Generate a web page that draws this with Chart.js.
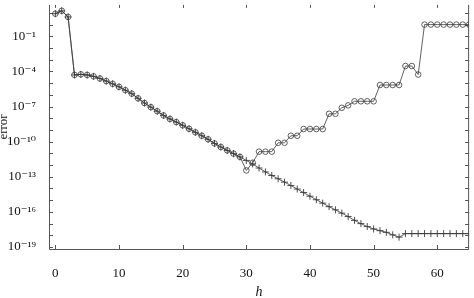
<!DOCTYPE html>
<html>
<head>
<meta charset="utf-8">
<script src="https://cdn.jsdelivr.net/npm/chart.js@4/dist/chart.umd.min.js"></script>
<style>
  html, body { margin: 0; padding: 0; background: #fff; }
  #wrap { width: 474px; height: 298px; }
</style>
</head>
<body>
<div id="wrap"><canvas id="myChart" width="474" height="298"></canvas></div>
<script>
// step index h
const h = [0, 1, 2, 3, 4, 5, 6, 7, 8, 9, 10, 11, 12, 13, 14, 15, 16, 17, 18, 19, 20,
  21, 22, 23, 24, 25, 26, 27, 28, 29, 30, 31, 32, 33, 34, 35, 36, 37, 38, 39, 40,
  41, 42, 43, 44, 45, 46, 47, 48, 49, 50, 51, 52, 53, 54, 55, 56, 57, 58, 59, 60,
  61, 62, 63, 64, 65];

// error, '+' series
const errPlus = [8.5, 15, 4.5, 5e-5, 5.6e-5, 5e-5, 3.8e-5, 2.5e-5, 1.5e-5, 8.7e-6, 4.8e-6,
  2.5e-6, 1.26e-6, 5e-7, 2e-7, 8.9e-8, 4e-8, 1.74e-8, 8.7e-9, 4.7e-9, 2.5e-9,
  1.26e-9, 6.3e-10, 3.2e-10, 1.6e-10, 7.1e-11, 3.5e-11, 1.8e-11, 9.5e-12, 5e-12, 2.5e-12,
  1.26e-12, 5.6e-13, 2.6e-13, 1.3e-13, 6.8e-14, 3.5e-14, 1.8e-14, 8.9e-15, 4.5e-15, 2.2e-15,
  1.1e-15, 5.6e-16, 2.8e-16, 1.5e-16, 7.9e-17, 4e-17, 1.9e-17, 1e-17, 5.6e-18, 3.5e-18,
  2.5e-18, 1.8e-18, 1.1e-18, 7e-19, 1.4e-18, 1.4e-18, 1.4e-18, 1.4e-18, 1.4e-18, 1.4e-18,
  1.4e-18, 1.4e-18, 1.4e-18, 1.4e-18, 1.4e-18];

// error, 'o' series
const errCircle = [8.5, 15, 4.5, 5e-5, 5.6e-5, 5e-5, 3.8e-5, 2.5e-5, 1.5e-5, 8.7e-6, 4.8e-6,
  2.5e-6, 1.26e-6, 5e-7, 2e-7, 8.9e-8, 4e-8, 1.74e-8, 8.7e-9, 4.7e-9, 2.5e-9,
  1.26e-9, 6.3e-10, 3.2e-10, 1.6e-10, 7.1e-11, 3.5e-11, 1.8e-11, 9.5e-12, 5e-12, 3.5e-13,
  1.6e-12, 1.4e-11, 1.4e-11, 1.4e-11, 8e-11, 8e-11, 3.2e-10, 3.2e-10, 1.2e-9, 1.2e-9,
  1.2e-9, 1.2e-9, 2.4e-8, 2.4e-8, 7.8e-8, 1.26e-7, 2.8e-7, 2.8e-7, 2.8e-7, 2.8e-7,
  6.9e-6, 6.9e-6, 6.9e-6, 6.9e-6, 2.9e-4, 2.9e-4, 5.4e-5, 1, 1, 1,
  1, 1, 1, 1, 1];

// axis ticks
const xTicks = [0, 10, 20, 30, 40, 50, 60];
const yTickExp = [-19, -18, -17, -16, -15, -14, -13, -12, -11, -10, -9, -8, -7, -6, -5,
  -4, -3, -2, -1, 0, 1];
const yLabelExp = [-19, -16, -13, -10, -7, -4, -1];

const SUP = { '-': '\u207B', '0': '\u2070', '1': '\u00B9', '2': '\u00B2', '3': '\u00B3',
  '4': '\u2074', '5': '\u2075', '6': '\u2076', '7': '\u2077', '8': '\u2078', '9': '\u2079' };
const supText = s => String(s).split('').map(c => SUP[c]).join('');

const FONT = "'Liberation Serif', 'DejaVu Serif', serif";
const INK = '#3a3a3a';

// gnuplot-like frame (top edge is cut off) with inward ticks on all four sides
const framePlugin = {
  id: 'framePlugin',
  beforeDatasetsDraw(chart) {
    const { ctx, chartArea: { left, right, top, bottom }, scales: { x, y } } = chart;
    ctx.save();
    ctx.strokeStyle = '#555';
    ctx.lineWidth = 1;
    ctx.beginPath();
    ctx.moveTo(left + 0.5, top);
    ctx.lineTo(left + 0.5, bottom + 0.5);
    ctx.lineTo(right - 0.5, bottom + 0.5);
    ctx.lineTo(right - 0.5, top);
    x.ticks.forEach(t => {
      const px = Math.round(x.getPixelForValue(t.value)) + 0.5;
      ctx.moveTo(px, bottom); ctx.lineTo(px, bottom - 4);
      ctx.moveTo(px, top); ctx.lineTo(px, top + 3);
    });
    y.ticks.forEach(t => {
      const py = Math.round(y.getPixelForValue(t.value)) + 0.5;
      ctx.moveTo(left, py); ctx.lineTo(left + 4, py);
      ctx.moveTo(right, py); ctx.lineTo(right - 4, py);
    });
    ctx.stroke();
    ctx.restore();
  }
};

const toPoints = arr => h.map((v, i) => ({ x: v, y: arr[i] }));

new Chart('myChart', {
  type: 'line',
  data: {
    datasets: [
      {
        label: '+',
        data: toPoints(errPlus),
        borderColor: INK,
        borderWidth: 0.8,
        pointStyle: 'cross',
        pointRadius: 3.5,
        pointBorderColor: INK,
        pointBorderWidth: 0.9,
        pointBackgroundColor: 'rgba(0,0,0,0)',
        tension: 0
      },
      {
        label: 'o',
        data: toPoints(errCircle),
        borderColor: INK,
        borderWidth: 0.8,
        pointStyle: 'circle',
        pointRadius: 2.8,
        pointBorderColor: INK,
        pointBorderWidth: 0.8,
        pointBackgroundColor: 'rgba(0,0,0,0)',
        tension: 0
      }
    ]
  },
  options: {
    responsive: false,
    animation: false,
    layout: { padding: { left: 0, right: 3, top: 0, bottom: 0 } },
    plugins: {
      legend: { display: false },
      tooltip: { enabled: false }
    },
    scales: {
      x: {
        type: 'linear',
        min: -1,
        max: 65,
        grid: { display: false, drawTicks: false },
        border: { display: false },
        afterBuildTicks: s => { s.ticks = xTicks.map(v => ({ value: v })); },
        afterFit: s => { s.height = 49; s.paddingLeft = 0; s.paddingRight = 0; },
        ticks: {
          padding: 17,
          maxRotation: 0,
          autoSkip: false,
          color: '#111',
          font: { family: FONT, size: 13 }
        },
        title: {
          display: true,
          text: 'h',
          color: '#111',
          padding: { top: 0, bottom: -3 },
          font: { family: FONT, size: 14, style: 'italic' }
        }
      },
      y: {
        type: 'logarithmic',
        min: 6.8e-20,
        max: 48,
        grid: { display: false, drawTicks: false },
        border: { display: false },
        afterBuildTicks: s => { s.ticks = yTickExp.map(e => ({ value: Math.pow(10, e) })); },
        afterFit: s => { s.width = 49; s.paddingTop = 0; s.paddingBottom = 0; },
        ticks: {
          padding: 13,
          autoSkip: false,
          color: '#111',
          font: { family: FONT, size: 13 },
          callback: v => {
            const e = Math.round(Math.log10(v));
            return yLabelExp.includes(e) ? '10' + supText(e) : '';
          }
        },
        title: {
          display: true,
          text: 'error',
          color: '#111',
          padding: { top: -4, bottom: 0 },
          font: { family: FONT, size: 13 }
        }
      }
    }
  },
  plugins: [framePlugin]
});
</script>
</body>
</html>
